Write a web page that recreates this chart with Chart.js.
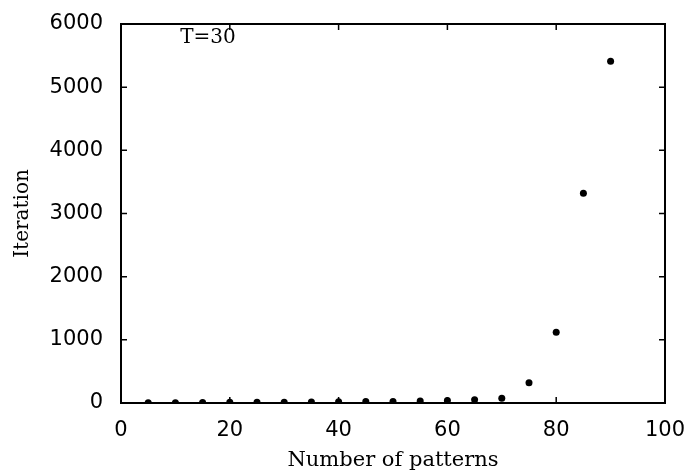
<!DOCTYPE html>
<html>
<head>
<meta charset="utf-8">
<script src="https://cdn.jsdelivr.net/npm/chart.js@4/dist/chart.umd.min.js"></script>
<style>
  html, body { margin: 0; padding: 0; background: #fff; }
  canvas { display: block; }
</style>
</head>
<body>
<canvas id="iterChart" width="686" height="473"></canvas>
<script>
// number of patterns vs. iterations needed (T=30)
var patterns = [5, 10, 15, 20, 25, 30, 35, 40, 45, 50, 55, 60, 65, 70, 75, 80, 85, 90];
var iterations = [5, 5, 8, 10, 10, 12, 15, 18, 22, 25, 30, 40, 50, 75, 320, 1120, 3320, 5410];
var xTicks = [0, 20, 40, 60, 80, 100];
var yTicks = [0, 1000, 2000, 3000, 4000, 5000, 6000];
var noteText = 'T=30';
var notePos = [16, 5780];

var points = patterns.map(function (p, i) { return { x: p, y: iterations[i] }; });

// box round the plot with inward tick marks, plus the T=30 note
var framePlugin = {
  id: 'frame',
  beforeDatasetsDraw: function (chart) {
    var c = chart.ctx, a = chart.chartArea;
    var sx = chart.scales.x, sy = chart.scales.y;
    c.save();
    c.strokeStyle = '#000';
    c.lineWidth = 2;
    c.strokeRect(a.left, a.top, a.right - a.left, a.bottom - a.top);
    c.lineWidth = 1.5;
    c.beginPath();
    xTicks.slice(1, -1).forEach(function (v) {
      var px = sx.getPixelForValue(v);
      c.moveTo(px, a.bottom); c.lineTo(px, a.bottom - 6);
      c.moveTo(px, a.top); c.lineTo(px, a.top + 6);
    });
    yTicks.slice(1, -1).forEach(function (v) {
      var py = sy.getPixelForValue(v);
      c.moveTo(a.left, py); c.lineTo(a.left + 6, py);
      c.moveTo(a.right, py); c.lineTo(a.right - 6, py);
    });
    c.stroke();
    c.fillStyle = '#000';
    c.font = '20px "DejaVu Serif"';
    c.textAlign = 'center';
    c.textBaseline = 'middle';
    c.fillText(noteText, sx.getPixelForValue(notePos[0]), sy.getPixelForValue(notePos[1]));
    c.restore();
  }
};

var plainNumber = function (v) { return String(v); };

// fixed axis sizes, no extra label padding
function fixSize(w, h) {
  return function (scale) {
    if (w !== null) scale.width = w;
    if (h !== null) scale.height = h;
    scale.paddingLeft = 0;
    scale.paddingRight = 0;
    scale.paddingTop = 0;
    scale.paddingBottom = 0;
  };
}

var ctx = document.getElementById('iterChart').getContext('2d');
var iterChart = new Chart(ctx, {
  type: 'scatter',
  data: {
    datasets: [{
      label: 'Iteration',
      data: points,
      backgroundColor: '#000',
      borderColor: '#000',
      pointRadius: 3.5,
      pointHoverRadius: 3.5,
      borderWidth: 0
    }]
  },
  options: {
    responsive: false,
    animation: false,
    layout: {
      padding: { left: 0, right: 21, top: 24, bottom: 0 }
    },
    plugins: {
      legend: { display: false },
      tooltip: { enabled: false }
    },
    scales: {
      x: {
        type: 'linear',
        min: 0,
        max: 100,
        afterFit: fixSize(null, 70),
        afterBuildTicks: function (scale) {
          scale.ticks = xTicks.map(function (v) { return { value: v }; });
        },
        grid: { display: false, drawTicks: false },
        border: { display: false },
        ticks: {
          color: '#000',
          padding: 15,
          maxRotation: 0,
          callback: plainNumber,
          font: { family: 'DejaVu Sans', size: 21 }
        },
        title: {
          display: true,
          text: 'Number of patterns',
          color: '#000',
          padding: { top: 0, bottom: 0 },
          font: { family: 'DejaVu Serif', size: 21 }
        }
      },
      y: {
        type: 'linear',
        min: 0,
        max: 6000,
        afterFit: fixSize(121, null),
        afterBuildTicks: function (scale) {
          scale.ticks = yTicks.map(function (v) { return { value: v }; });
        },
        grid: { display: false, drawTicks: false },
        border: { display: false },
        ticks: {
          color: '#000',
          padding: 18,
          callback: plainNumber,
          font: { family: 'DejaVu Sans', size: 21 }
        },
        title: {
          display: true,
          text: 'Iteration',
          color: '#000',
          padding: { top: 11, bottom: 11 },
          font: { family: 'DejaVu Serif', size: 20 }
        }
      }
    }
  },
  plugins: [framePlugin]
});
</script>
</body>
</html>
